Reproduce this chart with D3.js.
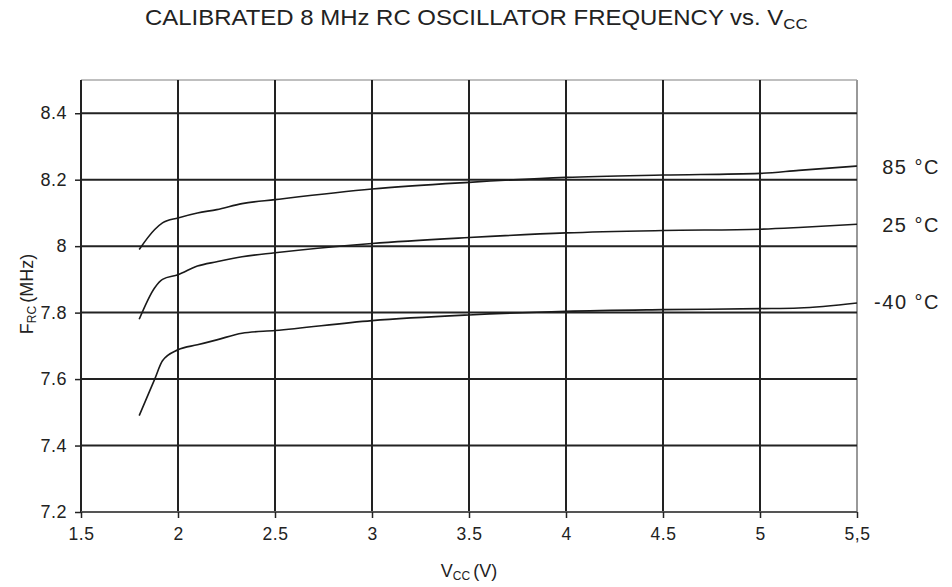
<!DOCTYPE html>
<html><head><meta charset="utf-8">
<script src="https://cdn.jsdelivr.net/npm/d3@7"></script>
<style>body{margin:0;background:#fff;font-family:"Liberation Sans",Arial,sans-serif;}</style>
</head><body><svg id="c" width="952" height="587"></svg>
<script>
const xTicks = [1.5, 2, 2.5, 3, 3.5, 4, 4.5, 5, 5.5];
const xTickLabels = ["1.5", "2", "2.5", "3", "3.5", "4", "4.5", "5", "5,5"];
const yTicks = [7.2, 7.4, 7.6, 7.8, 8, 8.2, 8.4];
const yTickLabels = ["7.2", "7.4", "7.6", "7.8", "8", "8.2", "8.4"];
const seriesNames = ["85 °C", "25 °C", "-40 °C"];
const vcc = [1.8, 1.88, 1.92, 2.0, 2.1, 2.2, 2.33, 2.5, 3.0, 3.5, 4.0, 4.5, 5.0, 5.2, 5.5];
const f85 = [7.99, 8.05, 8.07, 8.085, 8.10, 8.11, 8.128, 8.14, 8.172, 8.192, 8.207, 8.214, 8.219, 8.228, 8.241];
const f25 = [7.78, 7.875, 7.90, 7.914, 7.94, 7.953, 7.968, 7.98, 8.008, 8.026, 8.040, 8.047, 8.051, 8.056, 8.066];
const fm40 = [7.49, 7.60, 7.655, 7.688, 7.703, 7.718, 7.738, 7.746, 7.776, 7.793, 7.804, 7.809, 7.812, 7.814, 7.829];
const seriesValues = [f85, f25, fm40];

const svg = d3.select("#c");
const L = 81, R = 857, T = 80, B = 512;
const x = d3.scaleLinear().domain([1.5, 5.5]).range([L, R]);
const y = d3.scaleLinear().domain([7.2, 8.5]).range([B, T]);
const font = '"Liberation Sans",Arial,sans-serif';
const ink = "#222";

// title, stretched horizontally to the reference's width
const titleG = svg.append("g");
const title = titleG.append("text").attr("x", 0).attr("y", 0).attr("text-anchor", "start")
  .attr("font-size", 21.5).attr("fill", ink).attr("font-family", font);
title.append("tspan").text("CALIBRATED 8 MHz RC OSCILLATOR FREQUENCY vs. V");
title.append("tspan").attr("dy", 4).attr("font-size", 15).text("CC");
{
  const w = title.node().getComputedTextLength();
  titleG.attr("transform", `translate(145,25) scale(${663 / w},1)`);
}

// frame top/right
svg.append("line").attr("x1", L).attr("x2", R).attr("y1", T).attr("y2", T).attr("stroke", "#aaa").attr("stroke-width", 1.5);
svg.append("line").attr("x1", R).attr("x2", R).attr("y1", T).attr("y2", B).attr("stroke", "#999").attr("stroke-width", 2);

// grid
svg.append("g").selectAll("line").data(yTicks.filter(d => d > 7.2)).join("line")
  .attr("x1", L).attr("x2", R).attr("y1", d => y(d)).attr("y2", d => y(d))
  .attr("stroke", ink).attr("stroke-width", 2);
svg.append("g").selectAll("line").data(xTicks.filter(d => d > 1.5 && d < 5.5)).join("line")
  .attr("x1", d => x(d)).attr("x2", d => x(d)).attr("y1", T).attr("y2", B)
  .attr("stroke", ink).attr("stroke-width", 2);

// axes
const yAxis = d3.axisLeft(y).tickValues(yTicks).tickFormat((d, i) => yTickLabels[i]).tickSize(6).tickPadding(8);
const gy = svg.append("g").attr("transform", `translate(${L},0)`).call(yAxis);
gy.select(".domain").attr("stroke", ink).attr("stroke-width", 2).attr("d", `M0,${B}V${T}`);
gy.selectAll(".tick line").attr("stroke", ink).attr("stroke-width", 1.5);
gy.selectAll("text").attr("font-size", 18).attr("font-family", font).attr("fill", ink).attr("letter-spacing", 0.5);

const xAxis = d3.axisBottom(x).tickValues(xTicks).tickFormat((d, i) => xTickLabels[i]).tickSize(6).tickPadding(10);
const gx = svg.append("g").attr("transform", `translate(0,${B})`).call(xAxis);
gx.select(".domain").attr("stroke", "#555").attr("stroke-width", 2).attr("d", `M${L},0H${R}`);
gx.selectAll(".tick line").attr("stroke", ink).attr("stroke-width", 1.5);
gx.selectAll("text").attr("font-size", 17.5).attr("font-family", font).attr("fill", ink).attr("letter-spacing", 0.5);

// curves
const line = d3.line().x(d => x(d[0])).y(d => y(d[1])).curve(d3.curveMonotoneX);
const labelBase = [174, 232, 309];
seriesValues.forEach((vals, i) => {
  svg.append("path").datum(vcc.map((v, j) => [v, vals[j]])).attr("d", line)
    .attr("fill", "none").attr("stroke", "#1a1a1a").attr("stroke-width", 1.6);
  svg.append("text").attr("x", 940).attr("y", labelBase[i])
    .attr("text-anchor", "end").attr("font-size", 20).attr("letter-spacing", 1.5)
    .attr("font-family", font).attr("fill", ink).text(seriesNames[i]);
});

// axis titles
const yl = svg.append("text").attr("transform", "translate(33,294) rotate(-90)").attr("text-anchor", "middle")
  .attr("font-size", 18).attr("font-family", font).attr("fill", ink);
yl.append("tspan").text("F");
yl.append("tspan").attr("dy", 3).attr("font-size", 12).text("RC");
yl.append("tspan").attr("dy", -3).attr("dx", 3).text("(MHz)");
const xl = svg.append("text").attr("x", 469).attr("y", 577).attr("text-anchor", "middle")
  .attr("font-size", 18).attr("font-family", font).attr("fill", ink);
xl.append("tspan").text("V");
xl.append("tspan").attr("dy", 3).attr("font-size", 12).text("CC");
xl.append("tspan").attr("dy", -3).attr("dx", 3).text("(V)");
</script></body></html>
